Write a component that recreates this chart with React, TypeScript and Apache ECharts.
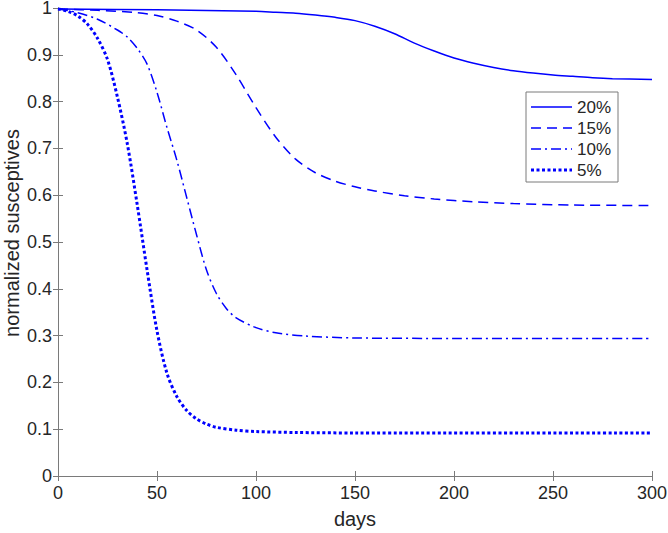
import React, { useEffect, useRef } from "react";
import * as echarts from "echarts";

const xTicks = { min: 0, max: 300, interval: 50 };
const yTicks = { min: 0, max: 1, interval: 0.1 };

const seriesNames = ["20%", "15%", "10%", "5%"];

const days20 = [0, 50, 100, 110, 120, 130, 140, 150, 160, 170, 180, 190, 200, 210, 220, 230, 240, 250, 260, 270, 280, 300];
const vals20 = [0.998, 0.996, 0.993, 0.991, 0.989, 0.985, 0.98, 0.973, 0.961, 0.945, 0.925, 0.908, 0.893, 0.882, 0.873, 0.866, 0.861, 0.857, 0.854, 0.851, 0.849, 0.847];

const days15 = [0, 20, 40, 50, 60, 70, 80, 90, 100, 110, 120, 130, 140, 150, 160, 175, 190, 210, 230, 260, 300];
const vals15 = [0.998, 0.995, 0.99, 0.984, 0.972, 0.953, 0.916, 0.857, 0.787, 0.724, 0.677, 0.648, 0.63, 0.618, 0.609, 0.599, 0.592, 0.586, 0.582, 0.579, 0.578];

const days10 = [0, 10, 20, 30, 35, 40, 45, 50, 55, 60, 65, 70, 75, 80, 85, 90, 100, 110, 125, 150, 200, 300];
const vals10 = [0.998, 0.99, 0.976, 0.953, 0.938, 0.914, 0.88, 0.82, 0.745, 0.675, 0.595, 0.515, 0.44, 0.39, 0.358, 0.338, 0.317, 0.306, 0.299, 0.295, 0.294, 0.294];

const days5 = [0, 5, 10, 15, 20, 25, 30, 35, 40, 45, 50, 55, 60, 65, 70, 75, 80, 90, 100, 120, 150, 300];
const vals5 = [0.998, 0.993, 0.983, 0.965, 0.935, 0.89, 0.81, 0.71, 0.58, 0.44, 0.31, 0.22, 0.17, 0.14, 0.122, 0.111, 0.104, 0.098, 0.095, 0.093, 0.092, 0.092];

const xName = "days";
const yName = "normalized susceptives";

const FONT = "'Liberation Sans', Arial, Helvetica, sans-serif";
const AXIS_COLOR = "#7a7a7a";
const TEXT_COLOR = "#262626";
const BLUE = "#0000ff";

function pairs(xs: number[], ys: number[]) {
  return xs.map((x, i) => [x, ys[i]]);
}

export default function App() {
  const ref = useRef<HTMLDivElement>(null);
  useEffect(() => {
    if (!ref.current) return;
    const chart = echarts.init(ref.current, undefined, { renderer: "svg" });
    const axisCommon = {
      axisLine: { show: true, lineStyle: { color: AXIS_COLOR, width: 1 } },
      axisTick: { show: true, inside: true, length: 5, lineStyle: { color: AXIS_COLOR } },
      splitLine: { show: false },
    };
    const lineStyles: any[] = [
      { type: "solid", width: 1.5 },
      { type: [10, 6], width: 1.5 },
      { type: [10, 4, 2, 4], width: 1.5 },
      { type: [3, 2.5], width: 3 },
    ];
    const legendDash: any[] = [null, [10, 6], [10, 4, 2, 4], [3, 2.5]];
    const datasets = [
      pairs(days20, vals20),
      pairs(days15, vals15),
      pairs(days10, vals10),
      pairs(days5, vals5),
    ];
    const legendX = 526;
    const legendY = 92;
    const rowY = [107, 128, 149, 170];
    const legendChildren: any[] = [
      {
        type: "rect",
        shape: { x: legendX, y: legendY, width: 92, height: 90 },
        style: { fill: "#ffffff", stroke: AXIS_COLOR, lineWidth: 1 },
      },
    ];
    seriesNames.forEach((n, i) => {
      legendChildren.push({
        type: "line",
        shape: { x1: 531, y1: rowY[i], x2: 572, y2: rowY[i] },
        style: {
          stroke: BLUE,
          lineWidth: lineStyles[i].width,
          lineDash: legendDash[i],
        },
      });
      legendChildren.push({
        type: "text",
        x: 577,
        y: rowY[i],
        style: {
          text: n,
          fontFamily: FONT,
          fontSize: 17,
          fill: TEXT_COLOR,
          verticalAlign: "middle",
          align: "left",
        },
      });
    });
    chart.setOption({
      animation: false,
      backgroundColor: "#ffffff",
      grid: { left: 58, top: 8, width: 594, height: 468, containLabel: false, outerBoundsMode: "none" },
      graphic: [{ type: "group", z: 100, children: legendChildren }],
      xAxis: [
        {
          type: "value",
          position: "bottom",
          ...xTicks,
          ...axisCommon,
          axisLabel: { fontFamily: FONT, fontSize: 18, color: TEXT_COLOR, margin: 8 },
          name: xName,
          nameLocation: "middle",
          nameGap: 33,
          nameMoveOverlap: false,
          nameTextStyle: { fontFamily: FONT, fontSize: 20, color: TEXT_COLOR },
        },
        {
          type: "value",
          position: "top",
          ...xTicks,
          ...axisCommon,
          axisLabel: { show: false },
        },
      ],
      yAxis: [
        {
          type: "value",
          position: "left",
          ...yTicks,
          ...axisCommon,
          axisLabel: { fontFamily: FONT, fontSize: 18, lineHeight: 16, color: TEXT_COLOR, margin: 6 },
          name: yName,
          nameLocation: "middle",
          nameGap: 36,
          nameMoveOverlap: false,
          nameRotate: 90,
          nameTextStyle: { fontFamily: FONT, fontSize: 20, color: TEXT_COLOR, padding: [0, 0, 0, 18] },
        },
        {
          type: "value",
          position: "right",
          ...yTicks,
          ...axisCommon,
          axisLabel: { show: false },
        },
      ],
      series: datasets.map((d, i) => ({
        name: seriesNames[i],
        type: "line",
        xAxisIndex: 0,
        yAxisIndex: 0,
        data: d,
        showSymbol: false,
        symbol: "none",
        smooth: 0.3,
        lineStyle: { color: BLUE, ...lineStyles[i] },
        itemStyle: { color: BLUE },
      })),
    });
    return () => chart.dispose();
  }, []);
  return <div ref={ref} style={{ width: 668, height: 533, position: "absolute", left: 0, top: 0 }} />;
}
